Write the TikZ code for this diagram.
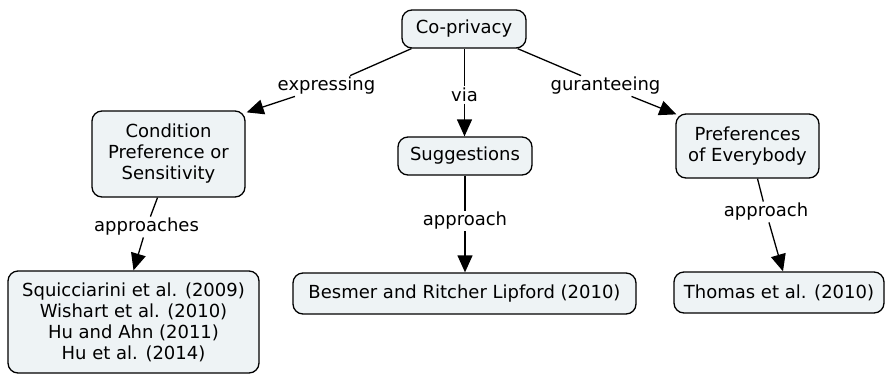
\documentclass[tikz,border=0pt]{standalone}
\usepackage{fontspec}
\setmainfont{DejaVu Sans}
\usetikzlibrary{arrows.meta,calc}
\definecolor{conceptfill}{HTML}{EEF3F5}
\begin{document}
\begin{tikzpicture}[x=1pt,y=-1pt,
  concept/.style={draw=black, line width=1.3pt, fill=conceptfill, rounded corners=10pt,
    align=center, inner sep=0pt, font=\fontsize{18}{21}\selectfont},
  linklabel/.style={inner sep=1.5pt, font=\fontsize{18}{21}\selectfont},
  link/.style={line width=1.3pt},
  arrowlink/.style={line width=1.3pt, -{Triangle[length=17pt,width=15pt]}}
]
\useasboundingbox (0,0) rectangle (887,376);

% concepts
\node[concept, minimum width=124pt, minimum height=38pt] (cop) at (464,29) {Co-privacy};
\node[concept, minimum width=153pt, minimum height=86pt] (cond) at (168.5,154) {Condition\\Preference or\\Sensitivity};
\node[concept, minimum width=134pt, minimum height=38pt] (sug) at (465,156) {Suggestions};
\node[concept, minimum width=143pt, minimum height=64pt] (pref) at (747.5,146) {Preferences\\of Everybody};
\node[concept, minimum width=251pt, minimum height=102pt] (sq) at (133.5,322) {Squicciarini et al. (2009)\\Wishart et al. (2010)\\Hu and Ahn (2011)\\Hu et al. (2014)};
\node[concept, minimum width=343pt, minimum height=41pt] (bes) at (464.5,293.5) {Besmer and Ritcher Lipford (2010)};
\node[concept, minimum width=210pt, minimum height=41pt] (tho) at (779,292.5) {Thomas et al. (2010)};

% link labels
\node[linklabel] (l1) at (326.5,86) {expressing};
\node[linklabel] (l2) at (464.5,95) {via};
\node[linklabel] (l3) at (605.5,86) {guranteeing};
\node[linklabel] (l4) at (146.5,227) {approaches};
\node[linklabel] (l5) at (465,221) {approach};
\node[linklabel] (l6) at (766,212) {approach};

% connection end points on the concept borders
\coordinate (s1) at ($(cop.south west)+(10,0)$);
\coordinate (t1) at ($(cond.north east)+(1,2)$);
\coordinate (s3) at ($(cop.south east)+(-9,0)$);
\coordinate (t3) at ($(pref.north west)+(1,1)$);
\coordinate (s4) at ($(cond.south)+(-11,0)$);
\coordinate (s6) at ($(pref.south)+(10,0)$);
\coordinate (t6) at ($(tho.north)+(4,0)$);

% connections
\draw[link] (s1) -- (l1);
\draw[arrowlink] (l1) -- (t1);
\draw[link] (cop.south -| l2) -- (l2);
\draw[arrowlink] (l2) -- (sug.north -| l2);
\draw[link] (s3) -- (l3);
\draw[arrowlink] (l3) -- (t3);
\draw[link] (s4) -- (l4);
\draw[arrowlink] (l4) -- (sq.north);
\draw[link] (sug.south) -- (l5);
\draw[arrowlink] (l5) -- (bes.north -| l5);
\draw[link] (s6) -- (l6);
\draw[arrowlink] (l6) -- (t6);
\end{tikzpicture}
\end{document}
